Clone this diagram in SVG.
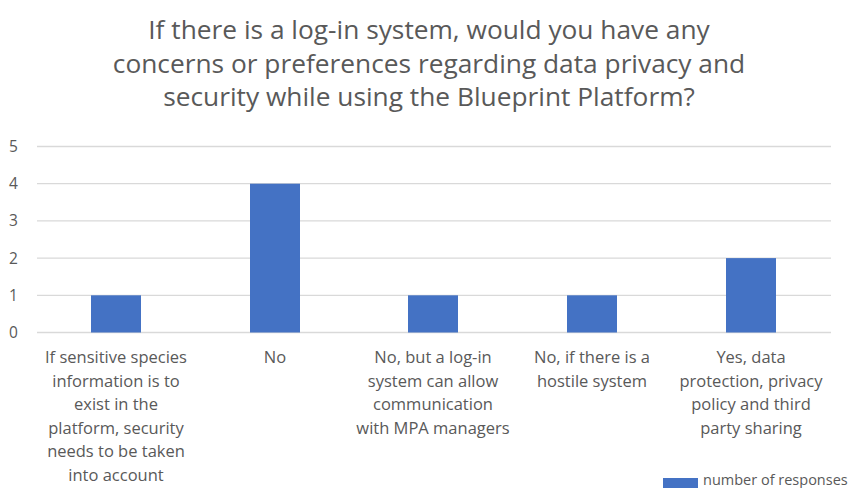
<svg xmlns="http://www.w3.org/2000/svg" width="850" height="488" viewBox="0 0 850 488">
<style>
.t{font-family:"Open Sans","Liberation Sans",sans-serif;fill:#595959}
.title{font-size:26.3px;text-anchor:middle}
.ax{font-size:15.5px}
.cat{font-size:16.5px;text-anchor:middle}
.grid{stroke:#D9D9D9;stroke-width:1.3}
.bar{fill:#4472C4}
</style>
<rect width="850" height="488" fill="#fff"/>
<g id="title" class="t title">
<text x="429" y="39">If there is a log-in system, would you have any</text>
<text x="429" y="73">concerns or preferences regarding data privacy and</text>
<text x="429" y="106">security while using the Blueprint Platform?</text>
</g>
<g id="gridlines">
<line class="grid" x1="37" y1="146.5" x2="831" y2="146.5"/>
<line class="grid" x1="37" y1="183.7" x2="831" y2="183.7"/>
<line class="grid" x1="37" y1="220.9" x2="831" y2="220.9"/>
<line class="grid" x1="37" y1="258.1" x2="831" y2="258.1"/>
<line class="grid" x1="37" y1="295.3" x2="831" y2="295.3"/>
<line class="grid" x1="37" y1="332.5" x2="831" y2="332.5"/>
</g>
<g id="yaxis" class="t ax">
<text x="9" y="152">5</text>
<text x="9" y="189.2">4</text>
<text x="9" y="226.4">3</text>
<text x="9" y="263.6">2</text>
<text x="9" y="300.8">1</text>
<text x="9" y="338">0</text>
</g>
<g id="bars">
<rect id="bar1" class="bar" x="91" y="295.3" width="50" height="37.2"/>
<rect id="bar2" class="bar" x="250" y="183.7" width="50" height="148.8"/>
<rect id="bar3" class="bar" x="408" y="295.3" width="50" height="37.2"/>
<rect id="bar4" class="bar" x="567" y="295.3" width="50" height="37.2"/>
<rect id="bar5" class="bar" x="726" y="258.1" width="50" height="74.4"/>
</g>
<g id="categories" class="t cat">
<text x="116" y="363"><tspan x="116">If sensitive species</tspan><tspan x="116" dy="23.5">information is to</tspan><tspan x="116" dy="23.5">exist in the</tspan><tspan x="116" dy="23.5">platform, security</tspan><tspan x="116" dy="23.5">needs to be taken</tspan><tspan x="116" dy="23.5">into account</tspan></text>
<text x="275" y="363">No</text>
<text x="433" y="363"><tspan x="433">No, but a log-in</tspan><tspan x="433" dy="23.5">system can allow</tspan><tspan x="433" dy="23.5">communication</tspan><tspan x="433" dy="23.5">with MPA managers</tspan></text>
<text x="592" y="363"><tspan x="592">No, if there is a</tspan><tspan x="592" dy="23.5">hostile system</tspan></text>
<text x="751" y="363"><tspan x="751">Yes, data</tspan><tspan x="751" dy="23.5">protection, privacy</tspan><tspan x="751" dy="23.5">policy and third</tspan><tspan x="751" dy="23.5">party sharing</tspan></text>
</g>
<g id="legend">
<rect class="bar" x="663" y="478" width="35" height="10"/>
<text class="t" x="703" y="485" font-size="14.5">number of responses</text>
</g>
</svg>
